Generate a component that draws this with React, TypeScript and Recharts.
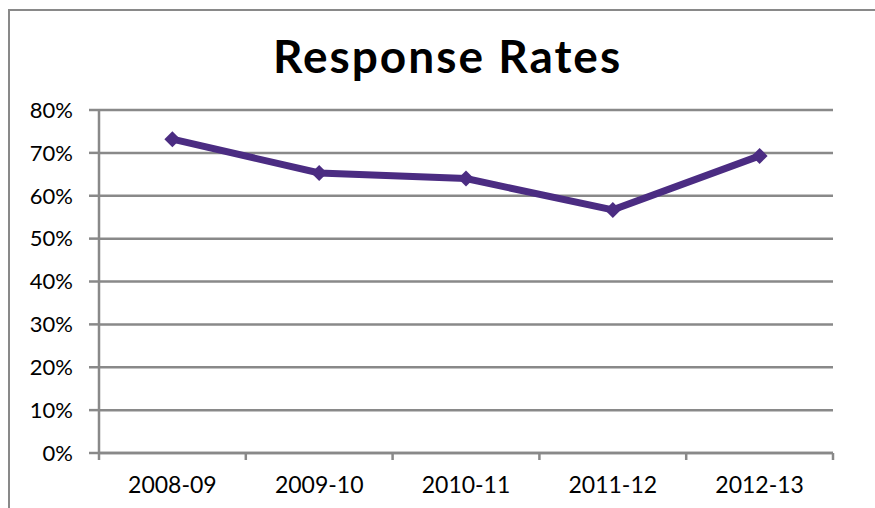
import { LineChart, Line, XAxis, YAxis, CartesianGrid } from 'recharts';

const PERIODS = ['2008-09', '2009-10', '2010-11', '2011-12', '2012-13'];
const RATES = [73.2, 65.3, 64.0, 56.7, 69.3];
const Y_TICKS = [0, 10, 20, 30, 40, 50, 60, 70, 80];
const BOUNDARIES = [0, 1, 2, 3, 4, 5];

const GRID = '#898989';
const PURPLE = '#4b2c82';
const FONT = 'Lato, "Open Sans", sans-serif';

// category slots sit at half steps so the tick marks fall between them
const data = PERIODS.map((p, i) => ({ idx: i + 0.5, period: p, rate: RATES[i] }));
const CENTERS = data.map((d) => d.idx);

function Diamond(props: any) {
  const { cx, cy } = props;
  if (cx == null || cy == null) return null;
  const r = 8;
  return (
    <polygon
      points={`${cx},${cy - r} ${cx + r},${cy} ${cx},${cy + r} ${cx - r},${cy}`}
      fill={PURPLE}
    />
  );
}

export default function App() {
  return (
    <div style={{ position: 'absolute', left: 0, top: 0, width: 875, height: 508, background: '#fff' }}>
      <div
        style={{
          position: 'absolute',
          left: 8,
          top: 9,
          right: 0,
          bottom: 0,
          borderTop: `2.5px solid ${GRID}`,
          borderLeft: `2.5px solid ${GRID}`,
        }}
      />
      <div
        style={{
          position: 'absolute',
          left: 0,
          width: 895,
          top: 29,
          textAlign: 'center',
          fontFamily: FONT,
          fontWeight: 700,
          fontSize: 46,
          letterSpacing: 2,
          lineHeight: '54px',
          color: '#000',
        }}
      >
        Response Rates
      </div>
      <div style={{ position: 'absolute', left: 0, top: 0 }}>
        <LineChart
          width={875}
          height={508}
          data={data}
          margin={{ top: 110, right: 42, left: 39, bottom: 13 }}
        >
          <CartesianGrid stroke={GRID} strokeWidth={2.5} vertical={false} />
          <XAxis
            dataKey="idx"
            type="number"
            domain={[0, 5]}
            ticks={BOUNDARIES}
            height={2}
            tickFormatter={() => ''}
            axisLine={{ stroke: GRID, strokeWidth: 2.5 }}
            tickLine={{ stroke: GRID, strokeWidth: 2.5 }}
            tickSize={7}
            interval={0}
          />
          <XAxis
            xAxisId="labels"
            dataKey="idx"
            type="number"
            domain={[0, 5]}
            ticks={CENTERS}
            height={40}
            axisLine={false}
            tickLine={false}
            tickMargin={16}
            interval={0}
            tickFormatter={(v: number) => PERIODS[Math.floor(v)]}
            tick={{ fill: '#000', fontSize: 23, fontFamily: FONT }}
          />
          <YAxis
            domain={[0, 80]}
            ticks={Y_TICKS}
            width={60}
            interval={0}
            tickFormatter={(v: number) => `${v}%`}
            axisLine={{ stroke: GRID, strokeWidth: 2.5 }}
            tickLine={{ stroke: GRID, strokeWidth: 2.5 }}
            tickSize={10}
            tickMargin={16}
            tick={{ fill: '#000', fontSize: 22, fontFamily: FONT }}
          />
          <Line
            type="linear"
            dataKey="rate"
            stroke={PURPLE}
            strokeWidth={7}
            dot={<Diamond />}
            activeDot={false}
            isAnimationActive={false}
          />
        </LineChart>
      </div>
    </div>
  );
}
